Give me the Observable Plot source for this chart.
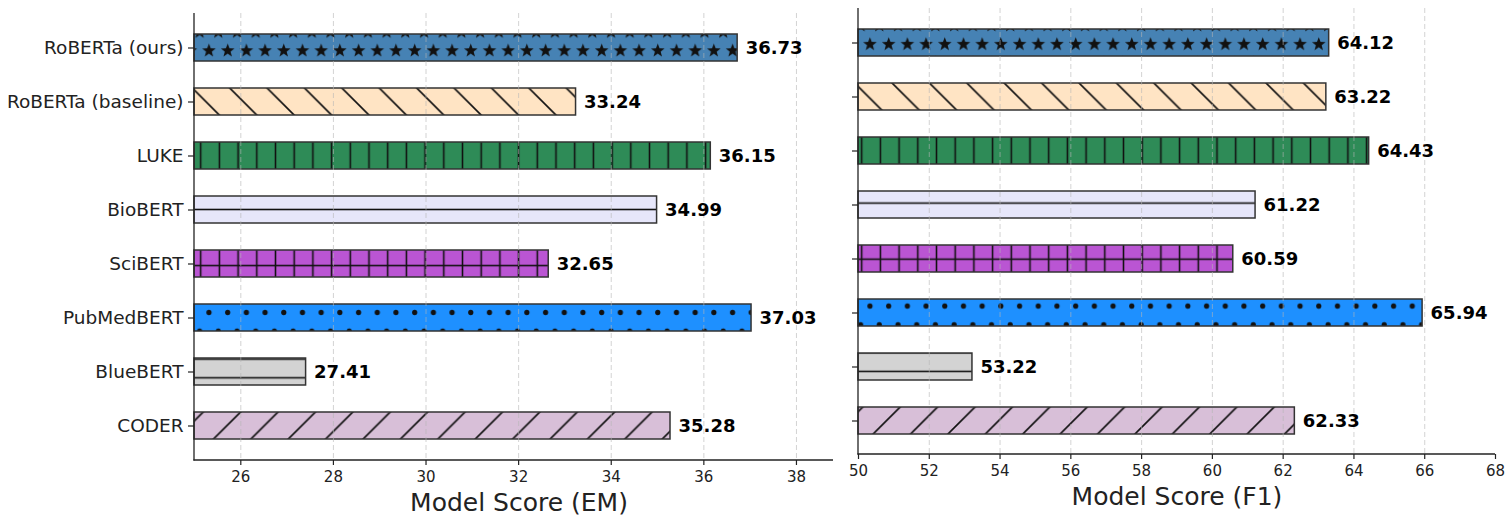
<!DOCTYPE html>
<html><head><meta charset="utf-8">
<script src="https://cdn.jsdelivr.net/npm/d3@7"></script>
<script src="https://cdn.jsdelivr.net/npm/@observablehq/plot@0.6"></script>
<style>
html,body{margin:0;padding:0;background:#fff;overflow:hidden;}
#wrap{position:relative;width:1511px;height:518px;background:#fff;}
#wrap svg{position:absolute;left:0;top:0;}
</style></head><body>
<div id="wrap"></div>
<script>
// ---- data ----
const models = ["RoBERTa (ours)", "RoBERTa (baseline)", "LUKE", "BioBERT", "SciBERT", "PubMedBERT", "BlueBERT", "CODER"];
// printed labels
const emScores = [36.73, 33.24, 36.15, 34.99, 32.65, 37.03, 27.41, 35.28];
const f1Scores = [64.12, 63.22, 64.43, 61.22, 60.59, 65.94, 53.22, 62.33];
// bar lengths as drawn in the picture
const emBars = [36.73, 33.24, 36.15, 34.99, 32.65, 37.03, 27.41, 35.28];
const f1Bars = [63.3, 63.22, 64.43, 61.22, 60.59, 65.94, 53.22, 62.33];
const barColors = ["#4682B4", "#FFE4C4", "#2E8B57", "#E6E6FA", "#BA55D3", "#1E90FF", "#D3D3D3", "#D8BFD8"];
const hatches = ["*", "\\", "|", "-", "+", ".", "-", "/"];
const emTicks = [26, 28, 30, 32, 34, 36, 38];
const f1Ticks = [50, 52, 54, 56, 58, 60, 62, 64, 66, 68];
const emDomain = [25, 38.8];
const f1Domain = [50, 68];
const emLabel = "Model Score (EM)";
const f1Label = "Model Score (F1)";

// ---- hatch patterns ----
const wrap = d3.select("#wrap");
const defs = wrap.append("svg").attr("width", 0).attr("height", 0).append("defs");
const S = 18.7, D = 37.4, HC = "#111", HW = 1.6;
function starPath(cx, cy, R, r) {
  let p = "";
  for (let k = 0; k < 10; k++) {
    const a = -Math.PI / 2 + k * Math.PI / 5, rr = k % 2 ? r : R;
    p += (k ? "L" : "M") + (cx + rr * Math.cos(a)).toFixed(2) + "," + (cy + rr * Math.sin(a)).toFixed(2);
  }
  return p + "Z";
}
function makePattern(id, color, hatch, sx, sy) {
  let w = S, h = S, ox = 0, oy = 0;
  if (hatch === "*" || hatch === ".") { w = S; h = D; ox = 204.3; oy = 41.35; }
  else if (hatch === "|") { ox = 191.35; oy = 0; }
  else if (hatch === "-") { ox = 0; oy = -5.55; }
  else if (hatch === "+") { ox = 191.35; oy = -5.55; }
  else if (hatch === "\\") { w = D; h = D; ox = 230; oy = 88.3; }
  else if (hatch === "/") { w = D; h = D; ox = 213.3; oy = 401.9; }
  const p = defs.append("pattern").attr("id", id).attr("patternUnits", "userSpaceOnUse")
    .attr("width", w).attr("height", h).attr("x", ox + sx).attr("y", oy + sy);
  p.append("rect").attr("width", w).attr("height", h).attr("fill", color);
  const line = (d) => p.append("path").attr("d", d).attr("stroke", HC).attr("stroke-width", HW).attr("fill", "none");
  if (hatch === "*") {
    for (const [cx, cy] of [[S / 4, S / 2], [3 * S / 4, 3 * S / 2]])
      for (const dx of [-S, 0, S]) p.append("path").attr("d", starPath(cx + dx, cy, 7.2, 3.0)).attr("fill", HC);
  } else if (hatch === ".") {
    for (const [cx, cy] of [[S / 4, S / 2], [3 * S / 4, 3 * S / 2]]) p.append("circle").attr("cx", cx).attr("cy", cy).attr("r", 2.6).attr("fill", HC);
  } else if (hatch === "|") line(`M${S / 2},-1V${S + 1}`);
  else if (hatch === "-") line(`M-1,${S / 2}H${S + 1}`);
  else if (hatch === "+") { line(`M${S / 2},-1V${S + 1}`); line(`M-1,${S / 2}H${S + 1}`); }
  else if (hatch === "\\") line(`M-5,-5L${D + 5},${D + 5}M-5,${D - 5}L5,${D + 5}M${D - 5},-5L${D + 5},5`);
  else if (hatch === "/") line(`M-5,${D + 5}L${D + 5},-5M-5,5L5,-5M${D - 5},${D + 5}L${D + 5},${D - 5}`);
}
models.forEach((m, i) => {
  makePattern("pL" + i, barColors[i], hatches[i], 0, 0);
  makePattern("pR" + i, barColors[i], hatches[i], 661, -6.4);
});

// ---- spines (left + bottom) ----
const spines = (index, scales, values, dims) => {
  const g = d3.create("svg:g").attr("stroke", "#222").attr("stroke-width", 1.3).attr("fill", "none");
  const l = dims.marginLeft, r = dims.width - dims.marginRight, t = dims.marginTop, b = dims.height - dims.marginBottom;
  g.append("line").attr("x1", l).attr("x2", l).attr("y1", t).attr("y2", b + 0.6);
  g.append("line").attr("x1", l - 0.6).attr("x2", r).attr("y1", b).attr("y2", b);
  return g.node();
};

function panel({bars, labels, domain, ticks, label, prefix, mLeft, mRight, mTop, mBottom, yRange, showY, titleDx}) {
  const rows = models.map((m, i) => ({model: m, value: bars[i], label: labels[i], fill: `url(#${prefix}${i})`}));
  const gridTicks = ticks.filter(t => t > domain[0] && t < domain[1]);
  return Plot.plot({
    width: 1511, height: 518,
    marginLeft: mLeft, marginRight: mRight, marginTop: mTop, marginBottom: mBottom,
    style: {background: "transparent", fontFamily: "DejaVu Sans", color: "#222", overflow: "visible"},
    x: {domain},
    y: {domain: models, range: yRange, paddingInner: 0.5, paddingOuter: 0.25},
    color: {type: "identity"},
    marks: [
      Plot.barX(rows, {x1: domain[0], x2: "value", y: "model", fill: "fill", stroke: "#333", strokeWidth: 1.5}),
      Plot.gridX({ticks: gridTicks, stroke: "#b5b5b5", strokeOpacity: 0.6, strokeDasharray: "5,3", strokeWidth: 1}),
      Plot.text(rows, {x: "value", y: "model", text: d => d.label.toFixed(2), textAnchor: "start", dx: 8,
        fontSize: 18, fontWeight: "bold", fill: "#000"}),
      Plot.axisX({ticks, tickSize: 5, tickFormat: () => "", strokeWidth: 1.2, label: null}),
      Plot.text(ticks, {x: d => d, text: d => String(d), frameAnchor: "bottom", lineAnchor: "middle", dy: 17, fontSize: 15, fill: "#222"}),
      Plot.axisY({tickSize: 6, tickFormat: () => "", strokeWidth: 1.2, label: null}),
      showY ? Plot.text(models, {y: d => d, text: d => d, frameAnchor: "left", textAnchor: "end", lineAnchor: "middle", dx: -11, fontSize: 18.5, fill: "#222"}) : null,
      Plot.text([label], {frameAnchor: "bottom", lineAnchor: "middle", text: d => d, dy: 42, dx: titleDx, fontSize: 25, fill: "#222"}),
      spines
    ]
  });
}

const left = panel({bars: emBars, labels: emScores, domain: emDomain, ticks: emTicks, label: emLabel, prefix: "pL",
  mLeft: 194, mRight: 1511 - 833, mTop: 13, mBottom: 518 - 460, yRange: [19.93, 453.07], showY: true, titleDx: 5});
const right = panel({bars: f1Bars, labels: f1Scores, domain: f1Domain, ticks: f1Ticks, label: f1Label, prefix: "pR",
  mLeft: 858, mRight: 1511 - 1495, mTop: 8, mBottom: 518 - 454, yRange: [14.93, 448.07], showY: false, titleDx: 0});
wrap.node().appendChild(left);
wrap.node().appendChild(right);
</script>
</body></html>
